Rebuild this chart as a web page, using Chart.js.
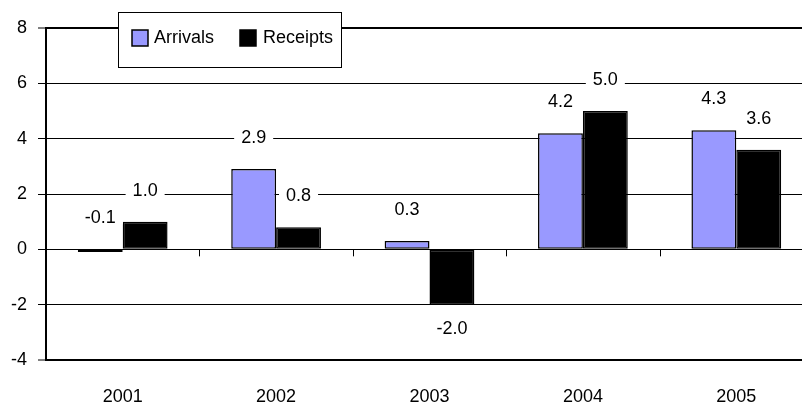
<!DOCTYPE html>
<html>
<head>
<meta charset="utf-8">
<script src="https://cdn.jsdelivr.net/npm/chart.js@4/dist/chart.umd.min.js"></script>
<style>
  html, body { margin: 0; padding: 0; background: #fff; overflow: hidden; }
  #wrap { width: 830px; height: 405px; position: relative; }
</style>
</head>
<body>
<div id="wrap"><canvas id="chart"></canvas></div>
<script>
const years = ['2001', '2002', '2003', '2004', '2005'];
const arrivals = [-0.1, 2.9, 0.3, 4.2, 4.3];
const receipts = [1.0, 0.8, -2.0, 5.0, 3.6];
const seriesNames = ['Arrivals', 'Receipts'];
const yMin = -4, yMax = 8, yStep = 2;

const FONT = "'Liberation Sans', Arial, sans-serif";
Chart.defaults.font.family = FONT;
Chart.defaults.font.size = 18;
Chart.defaults.color = '#000';

// value labels with white strip behind (cuts the gridlines like the original)
const valueLabels = {
    id: 'valueLabels',
    afterDatasetsDraw(chart) {
        const ctx = chart.ctx;
        const y = chart.scales.y;
        ctx.save();
        ctx.font = '18px ' + FONT;
        ctx.textAlign = 'center';
        ctx.textBaseline = 'middle';
        chart.data.datasets.forEach((ds, i) => {
            chart.getDatasetMeta(i).data.forEach((bar, j) => {
                const v = ds.data[j];
                const text = v.toFixed(1);
                const ty = v < -0.5
                    ? y.getPixelForValue(v) + 23
                    : y.getPixelForValue(Math.max(v, 0)) - 32;
                const w = ctx.measureText(text).width + 14;
                ctx.fillStyle = '#fff';
                ctx.fillRect(bar.x - w / 2, ty - 7, w, 14);
                ctx.fillStyle = '#000';
                ctx.fillText(text, bar.x, ty + 1);
            });
        });
        ctx.restore();
    }
};

// small tick marks on the zero line between categories
const zeroTicks = {
    id: 'zeroTicks',
    beforeDatasetsDraw(chart) {
        const ctx = chart.ctx;
        const x = chart.scales.x, y = chart.scales.y;
        const y0 = y.getPixelForValue(0);
        ctx.save();
        ctx.strokeStyle = '#000';
        ctx.lineWidth = 1;
        for (let i = 1; i < years.length; i++) {
            const px = Math.round((x.getPixelForTick(i - 1) + x.getPixelForTick(i)) / 2) + 0.5;
            ctx.beginPath();
            ctx.moveTo(px, y0);
            ctx.lineTo(px, y0 + 7);
            ctx.stroke();
        }
        ctx.restore();
    }
};

// boxed legend sitting on the top border
const boxLegend = {
    id: 'boxLegend',
    afterDraw(chart) {
        const ctx = chart.ctx;
        ctx.save();
        ctx.fillStyle = '#fff';
        ctx.fillRect(118, 12, 224, 56);
        ctx.strokeStyle = '#000';
        ctx.lineWidth = 1;
        ctx.strokeRect(118.5, 12.5, 223, 55);
        ctx.font = '18px ' + FONT;
        ctx.textBaseline = 'middle';
        const items = [[132, 154], [240, 263]];
        chart.data.datasets.forEach((ds, i) => {
            const [sx, tx] = items[i];
            ctx.fillStyle = ds.backgroundColor;
            ctx.fillRect(sx, 30, 16, 16);
            ctx.lineWidth = 1.5;
            ctx.strokeRect(sx, 30, 16, 16);
            ctx.fillStyle = '#000';
            ctx.fillText(ds.label, tx, 38);
        });
        ctx.restore();
    }
};

new Chart(document.getElementById('chart'), {
    type: 'bar',
    data: {
        labels: years,
        datasets: [
            {
                label: seriesNames[0],
                data: arrivals,
                backgroundColor: '#9999ff',
                borderColor: '#000',
                borderWidth: 1.5,
                borderSkipped: false
            },
            {
                label: seriesNames[1],
                data: receipts,
                backgroundColor: '#000',
                borderColor: '#000',
                borderWidth: 1.5,
                borderSkipped: false
            }
        ]
    },
    options: {
        responsive: true,
        maintainAspectRatio: false,
        animation: false,
        datasets: { bar: { categoryPercentage: 0.585, barPercentage: 1 } },
        layout: { padding: { top: 28, right: 17, left: 0, bottom: 0 } },
        plugins: {
            legend: { display: false },
            tooltip: { enabled: false }
        },
        scales: {
            x: {
                grid: { display: false },
                border: { display: false },
                ticks: { padding: 18, color: '#000' },
                afterFit: (s) => { s.height = 45; }
            },
            y: {
                min: yMin,
                max: yMax,
                ticks: { stepSize: yStep, padding: 11, color: '#000' },
                grid: {
                    color: '#000',
                    lineWidth: (c) => (c.tick && (c.tick.value === yMax || c.tick.value === yMin)) ? 2 : 1,
                    tickLength: 8,
                    tickColor: '#000',
                    tickWidth: 1
                },
                border: { display: true, color: '#000', width: 2 },
                afterFit: (s) => { s.width = 46; }
            }
        }
    },
    plugins: [zeroTicks, valueLabels, boxLegend]
});
</script>
</body>
</html>
